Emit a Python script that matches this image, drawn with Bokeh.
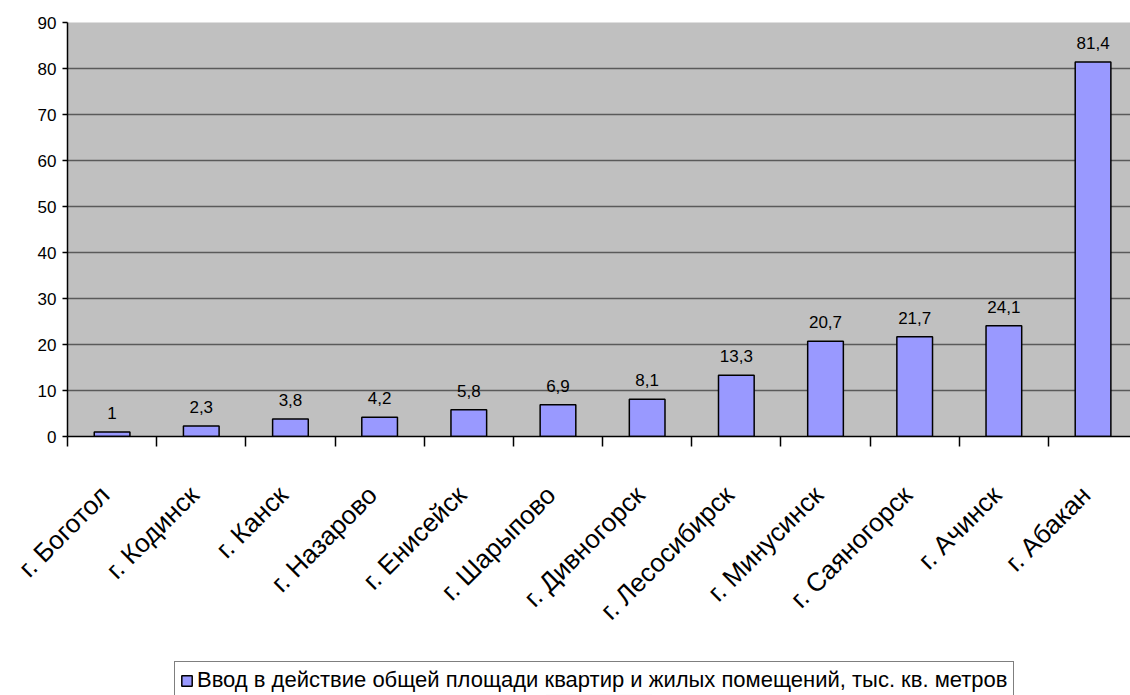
import math
from bokeh.plotting import figure
from bokeh.layouts import column
from bokeh.models import (ColumnDataSource, Range1d, FixedTicker, Legend, LegendItem,
                          LabelSet)
from bokeh.core.properties import value
from bokeh.embed import file_html
from bokeh.resources import INLINE

# Housing commissioned by town, thousand sq. metres
towns = ["г. Боготол", "г. Кодинск", "г. Канск", "г. Назарово", "г. Енисейск",
         "г. Шарыпово", "г. Дивногорск", "г. Лесосибирск", "г. Минусинск",
         "г. Саяногорск", "г. Ачинск", "г. Абакан"]
values = [1, 2.3, 3.8, 4.2, 5.8, 6.9, 8.1, 13.3, 20.7, 21.7, 24.1, 81.4]
value_labels = ["1", "2,3", "3,8", "4,2", "5,8", "6,9", "8,1", "13,3", "20,7",
                "21,7", "24,1", "81,4"]
y_ticks = [0, 10, 20, 30, 40, 50, 60, 70, 80, 90]
series_name = "Ввод в действие общей площади квартир и жилых помещений, тыс. кв. метров"

FONT = "Liberation Sans"
BAR_FILL = "#9999FF"

centers = [i + 0.5 for i in range(len(towns))]
label_pos = [c - 0.08 for c in centers]  # rotated labels end just at the bar centre
src = ColumnDataSource(dict(x=centers, top=values, lab=value_labels))

# ---- main chart -------------------------------------------------------------
p = figure(width=1130, height=661, output_backend="svg", toolbar_location=None,
           x_range=Range1d(0, 11.92), y_range=Range1d(0, 90),
           min_border_left=67, min_border_right=0, min_border_top=22,
           min_border_bottom=225, background_fill_color="#C0C0C0",
           border_fill_color="white", outline_line_color=None)

p.vbar(x="x", top="top", width=0.4, source=src, fill_color=BAR_FILL,
       line_color="black", line_width=1.5)

p.add_layout(LabelSet(x="x", y="top", text="lab", source=src, text_align="center",
                      text_baseline="alphabetic", y_offset=13,
                      text_font=value(FONT), text_font_size="17px",
                      text_color="black"))

# y axis
p.yaxis.ticker = FixedTicker(ticks=y_ticks)
p.yaxis.minor_tick_line_color = None
p.yaxis.major_tick_in = 0
p.yaxis.major_tick_out = 5
p.yaxis.axis_line_color = "black"
p.yaxis.axis_line_width = 1.5
p.yaxis.major_tick_line_width = 1.5
p.yaxis.major_label_text_font = FONT
p.yaxis.major_label_text_font_size = "17px"
p.yaxis.major_label_text_color = "black"
p.yaxis.major_label_standoff = 6

p.ygrid.ticker = FixedTicker(ticks=y_ticks)
p.ygrid.grid_line_color = "#5a5a5a"
p.ygrid.grid_line_width = 1.5
p.xgrid.grid_line_color = None

# x axis: town names under the bars, tick marks on category boundaries
p.xaxis.ticker = FixedTicker(ticks=label_pos, minor_ticks=list(range(len(towns) + 1)))
p.xaxis.major_label_overrides = {c: t for c, t in zip(label_pos, towns)}
p.xaxis.major_tick_line_color = None
p.xaxis.minor_tick_in = 0
p.xaxis.minor_tick_out = 10
p.xaxis.minor_tick_line_color = "black"
p.xaxis.minor_tick_line_width = 1.5
p.xaxis.axis_line_color = "black"
p.xaxis.axis_line_width = 1.5
p.xaxis.major_label_orientation = math.pi / 4
p.xaxis.major_label_standoff = 44
p.xaxis.major_label_text_font = FONT
p.xaxis.major_label_text_font_size = "26px"
p.xaxis.major_label_text_color = "black"

# ---- legend strip -----------------------------------------------------------
# frame is aligned with the chart above; the box runs off the bottom edge
leg = figure(width=1130, height=34, output_backend="svg", toolbar_location=None,
             x_range=Range1d(0, 1), y_range=Range1d(0, 1),
             x_axis_type=None, y_axis_type=None,
             min_border_left=67, min_border_right=0, min_border_top=0,
             min_border_bottom=0,
             outline_line_color=None, background_fill_color="white",
             border_fill_color="white")
leg.xgrid.grid_line_color = None
leg.ygrid.grid_line_color = None
# swatch source for the legend glyph; its bar lies below the strip's range
swatch = leg.vbar(x=[0.5], bottom=[-3], top=[-2], width=0.1, fill_color=BAR_FILL,
                  line_color="black", line_width=1.5)
leg.add_layout(Legend(items=[LegendItem(label=series_name, renderers=[swatch])],
                      location=(107, -4), orientation="horizontal",
                      label_text_font=FONT, label_text_font_size="22px",
                      label_text_color="black", border_line_color="black",
                      border_line_width=1.5, background_fill_color="white",
                      padding=5, margin=0, glyph_width=13, glyph_height=13,
                      label_standoff=4), "center")

open("out.html", "w").write(file_html(column(p, leg), INLINE))
